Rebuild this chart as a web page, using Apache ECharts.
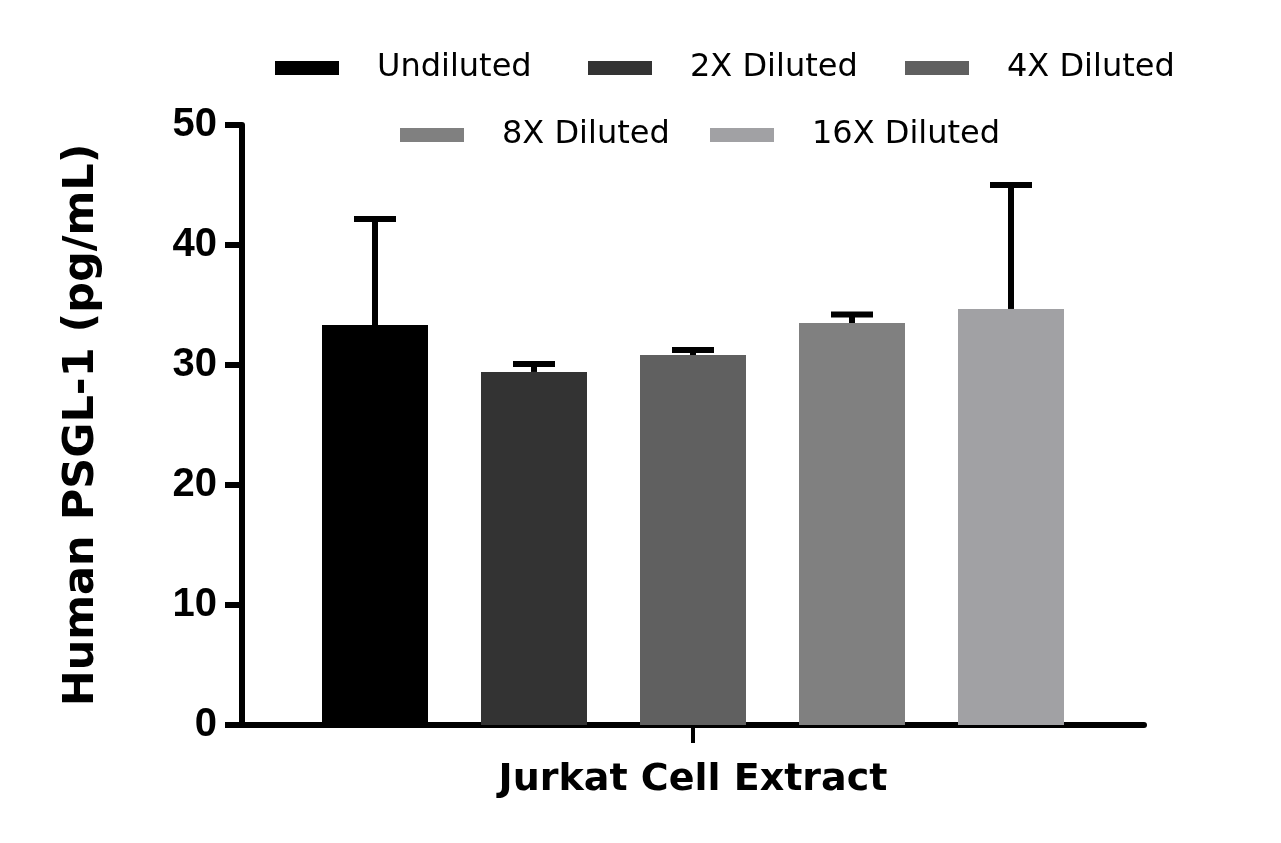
<!DOCTYPE html>
<html>
<head>
<meta charset="utf-8">
<script src="https://cdn.jsdelivr.net/npm/echarts@6/dist/echarts.min.js"></script>
<style>html,body{margin:0;padding:0;background:#fff}#c{width:1281px;height:843px}</style>
</head>
<body>
<div id="c"></div>
<script>
const categories = ['Jurkat Cell Extract'];
const seriesNames = ['Undiluted', '2X Diluted', '4X Diluted', '8X Diluted', '16X Diluted'];
const means = [33.33, 29.42, 30.83, 33.5, 34.67];
const sds = [8.84, 0.66, 0.42, 0.7, 10.33];
const yTicks = [0, 10, 20, 30, 40, 50];

const colors = ['#000000', '#333333', '#606060', '#808080', '#a1a1a4'];
const BAR_W = 106;
const BAR_GAP = 53;
const FONT = 'Liberation Sans, Arial, sans-serif';
const FONT_WIDE = 'DejaVu Sans, sans-serif';

// legend item anchor positions (layout only)
const legendPos = [[275, 52], [588, 52], [905, 52], [400, 119], [710, 119]];

const chart = echarts.init(document.getElementById('c'));

const barSeries = seriesNames.map((name, i) => ({
  name: name,
  type: 'bar',
  data: [means[i]],
  barWidth: BAR_W,
  barGap: (BAR_GAP / BAR_W * 100) + '%',
  itemStyle: { color: colors[i] },
  z: 2
}));

const errData = means.map((m, i) => [0, m, m + sds[i], i]);

const errSeries = {
  type: 'custom',
  name: 'err',
  data: errData,
  z: 5,
  renderItem: function (params, api) {
    const cat = api.value(0), m = api.value(1), up = api.value(2), idx = api.value(3);
    const n = seriesNames.length;
    const off = (idx - (n - 1) / 2) * (BAR_W + BAR_GAP);
    const p0 = api.coord([cat, m]);
    const p1 = api.coord([cat, up]);
    const x = p0[0] + off;
    return {
      type: 'group',
      children: [
        { type: 'line', shape: { x1: x, y1: p0[1], x2: x, y2: p1[1] }, style: { stroke: '#000', lineWidth: 6 } },
        { type: 'line', shape: { x1: x - 21, y1: p1[1], x2: x + 21, y2: p1[1] }, style: { stroke: '#000', lineWidth: 6 } }
      ]
    };
  }
};

const legends = seriesNames.map((name, i) => ({
  data: [name], left: legendPos[i][0], top: legendPos[i][1], padding: 0,
  itemWidth: 64, itemHeight: 14, icon: 'rect', selectedMode: false,
  formatter: function (n) { return '{s|}{t|' + n + '}'; },
  textStyle: {
    color: '#000', fontSize: 32, fontFamily: FONT_WIDE,
    rich: {
      s: { width: 33 },
      t: { color: '#000', fontSize: 32, fontFamily: FONT_WIDE }
    }
  }
}));

chart.setOption({
  animation: false,
  backgroundColor: '#fff',
  legend: legends,
  grid: { left: 242, right: 137, top: 125, bottom: 118 },
  xAxis: {
    type: 'category',
    data: categories,
    name: categories[0],
    nameLocation: 'middle',
    nameGap: 36,
    nameTextStyle: { color: '#000', fontSize: 38, fontWeight: 'bold', fontFamily: FONT_WIDE },
    axisLine: { lineStyle: { color: '#000', width: 6 } },
    axisTick: { show: true, alignWithLabel: true, interval: 0, length: 18, lineStyle: { color: '#000', width: 4 } },
    axisLabel: { show: true, formatter: function () { return ''; } }
  },
  yAxis: {
    type: 'value',
    min: yTicks[0],
    max: yTicks[yTicks.length - 1],
    interval: yTicks[1] - yTicks[0],
    name: 'Human PSGL-1 (pg/mL)',
    nameLocation: 'middle',
    nameGap: 139,
    nameTextStyle: { color: '#000', fontSize: 43, fontWeight: 'bold', fontFamily: FONT_WIDE },
    splitLine: { show: false },
    axisLine: { show: true, lineStyle: { color: '#000', width: 6 } },
    axisTick: { show: true, length: 17, lineStyle: { color: '#000', width: 6 } },
    axisLabel: { color: '#000', fontSize: 40, fontWeight: 'bold', fontFamily: FONT, margin: 25 }
  },
  series: barSeries.concat([errSeries])
});
</script>
</body>
</html>
